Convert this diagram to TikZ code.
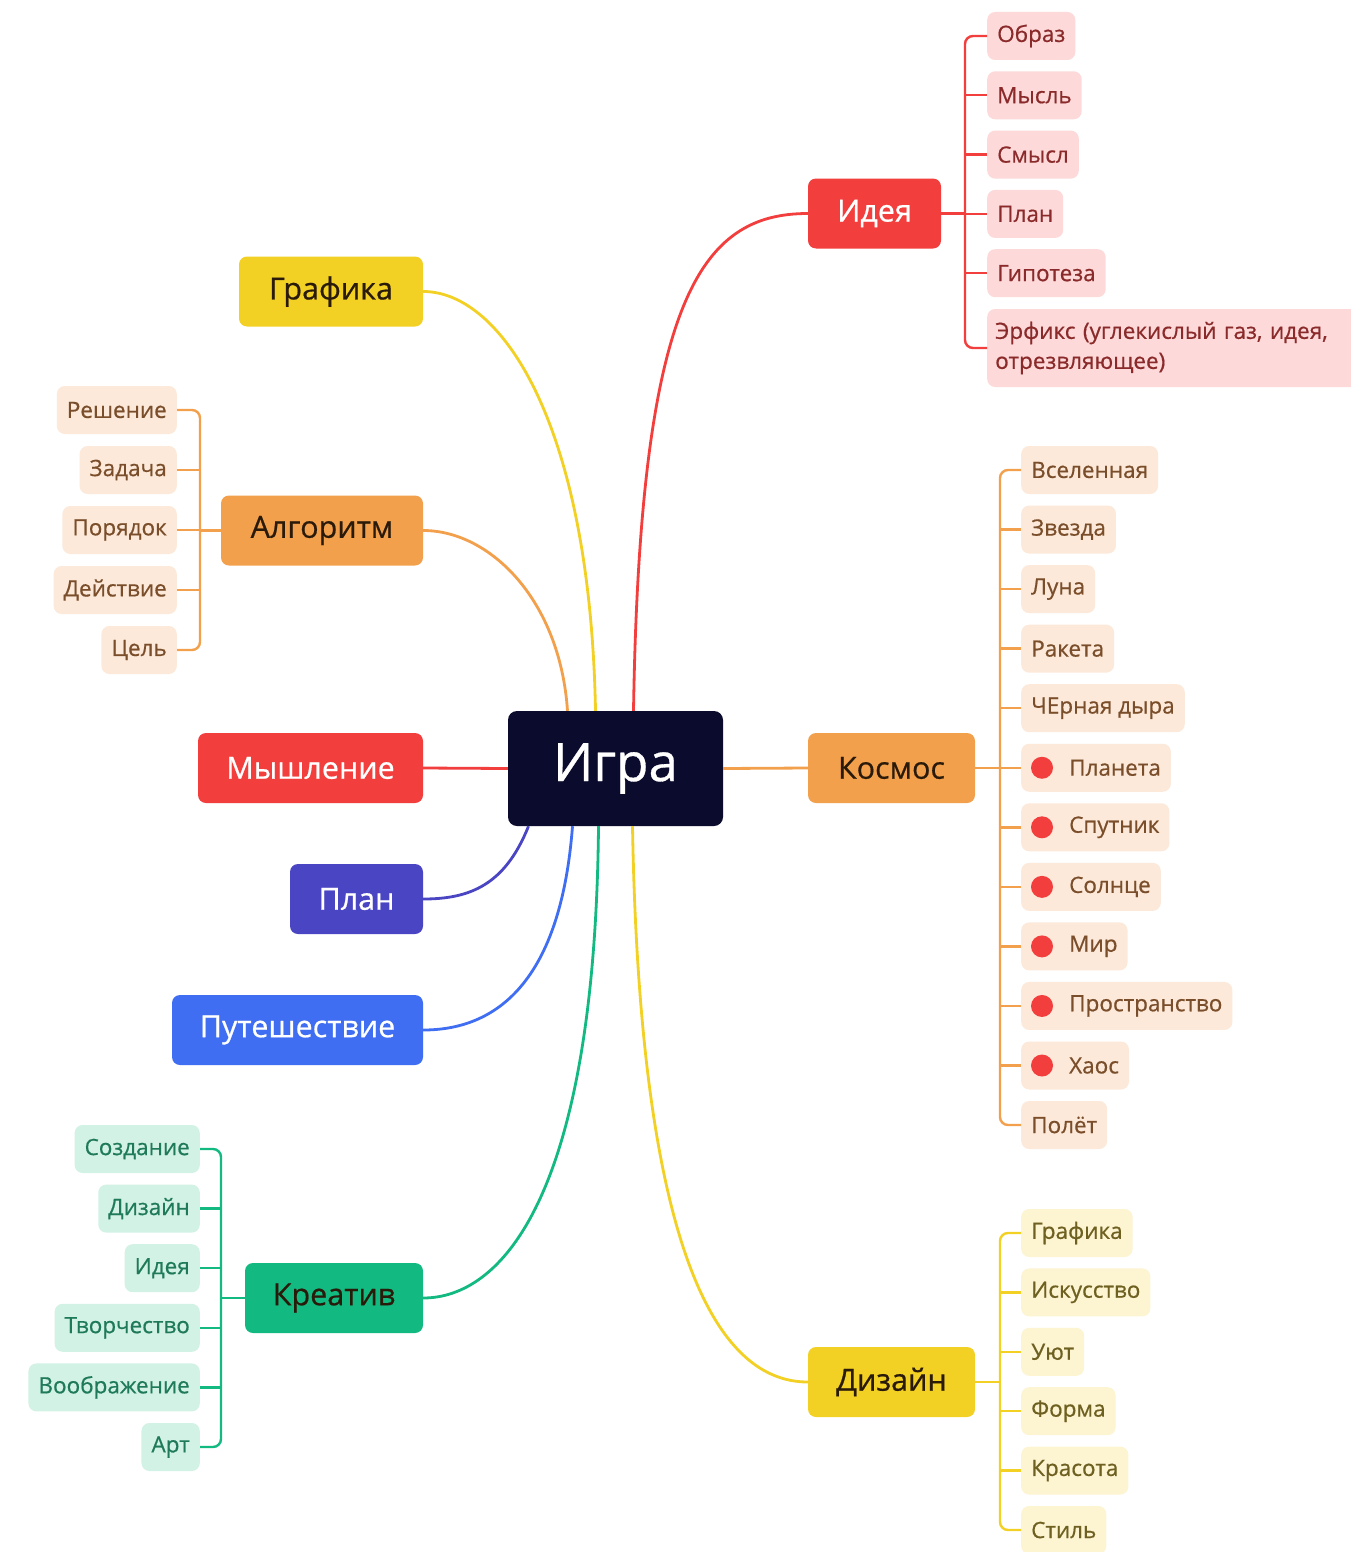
\documentclass[tikz,border=0pt]{standalone}
\usepackage{fontspec}
\setmainfont{Open Sans}[FakeBold=0.6]
\usetikzlibrary{calc}
\definecolor{navy}{HTML}{0B0B2E}
\definecolor{cred}{HTML}{F23E3C}
\definecolor{cyel}{HTML}{F2D024}
\definecolor{corg}{HTML}{F2A04C}
\definecolor{cind}{HTML}{4A45C2}
\definecolor{cblu}{HTML}{3F6EF2}
\definecolor{cgrn}{HTML}{12B981}
\definecolor{lred}{HTML}{FDD9D9}
\definecolor{tred}{HTML}{8A2A2A}
\definecolor{lorg}{HTML}{FDE9DA}
\definecolor{torg}{HTML}{7A4E2A}
\definecolor{lgrn}{HTML}{D2F2E5}
\definecolor{tgrn}{HTML}{1F7A5A}
\definecolor{lyel}{HTML}{FDF4D2}
\definecolor{tyel}{HTML}{6E6020}
\definecolor{dtext}{HTML}{2A1A0A}
\begin{document}
\begin{tikzpicture}[x=1pt,y=-1pt,
  root/.style={rectangle, rounded corners=9pt, fill=navy, text=white, minimum width=215pt, minimum height=115pt, inner sep=0pt, font=\fontsize{53}{60}\selectfont},
  mainbox/.style={rectangle, rounded corners=8pt, minimum height=70pt, inner sep=0pt, font=\fontsize{30.5}{35}\selectfont},
  leaf/.style={rectangle, rounded corners=8pt, minimum height=48pt, inner xsep=10pt, inner ysep=0pt, font=\fontsize{22.5}{26}\selectfont},
  leafI/.style={leaf, fill=lred, text=tred},
  leafA/.style={leaf, fill=lorg, text=torg},
  leafC/.style={leaf, fill=lgrn, text=tgrn},
  leafD/.style={leaf, fill=lyel, text=tyel},
  conn/.style={line width=2.8pt},
  brk/.style={line width=2.4pt, rounded corners=8pt},
  dotr/.style={fill=cred}
]
\useasboundingbox (0,0) rectangle (1350,1552);
\fill[white] (0,0) rectangle (1350,1552);

% central and main nodes
\node[root] (igra) at (615.5,768.5) {Игра};
\node[mainbox, fill=cred, text=white, minimum width=133pt] (idea) at (874.5,213.5) {Идея};
\node[mainbox, fill=cyel, text=dtext, minimum width=184pt] (graf) at (331,291.5) {Графика};
\node[mainbox, fill=corg, text=dtext, minimum width=202pt] (algo) at (322,530.5) {Алгоритм};
\node[mainbox, fill=cred, text=white, minimum width=225pt] (mysh) at (310.5,768) {Мышление};
\node[mainbox, fill=corg, text=dtext, minimum width=167pt] (kosm) at (891.5,768) {Космос};
\node[mainbox, fill=cind, text=white, minimum width=133pt] (plan) at (356.5,899) {План};
\node[mainbox, fill=cblu, text=white, minimum width=251pt] (pute) at (297.5,1030) {Путешествие};
\node[mainbox, fill=cgrn, text=dtext, minimum width=178pt] (krea) at (334,1298) {Креатив};
\node[mainbox, fill=cyel, text=dtext, minimum width=167pt] (dizn) at (891.5,1382) {Дизайн};

% main connectors
\draw[conn, cred] ([xshift=18pt]igra.north) .. controls (640,300) and (700,213.5) .. (idea.west);
\draw[conn, cyel] ([xshift=-20pt]igra.north) .. controls (590,420) and (500,291.5) .. (graf.east);
\draw[conn, corg] ([xshift=-48pt]igra.north) .. controls (560,600) and (490,530.5) .. (algo.east);
\draw[conn, cred] (igra.west) -- (mysh.east);
\draw[conn, corg] (igra.east) -- (kosm.west);
\draw[conn, cind] ([xshift=-87pt]igra.south) .. controls (505,885) and (470,899) .. (plan.east);
\draw[conn, cblu] ([xshift=-43pt]igra.south) .. controls (560,990) and (490,1030) .. (pute.east);
\draw[conn, cgrn] ([xshift=-17pt]igra.south) .. controls (595,1200) and (500,1298) .. (krea.east);
\draw[conn, cyel] ([xshift=17pt]igra.south) .. controls (640,1260) and (720,1382) .. (dizn.west);

% bracket anchors
\coordinate (bI) at (965,0);
\coordinate (bA) at (200,0);
\coordinate (bK) at (1000,0);
\coordinate (bC) at (221,0);
\coordinate (bD) at (1000,0);

% Идея children
\foreach \t [count=\i] in {Образ,Мысль,Смысл,План,Гипотеза}
  \node[leafI, anchor=west] (i\i) at (987,{36+59.3*(\i-1)}) {\t};
\node[leafI, anchor=west, align=left, text width=364pt, minimum height=78pt, inner xsep=8pt, font=\fontsize{22.5}{30}\selectfont] (i6) at (987,348) {Эрфикс (углекислый газ, идея,\\отрезвляющее)};
\draw[brk, cred] (i1.west) -- (i1.west -| bI) -- (i6.west -| bI) -- (i6.west);
\foreach \i in {2,...,5} \draw[brk, cred] (i\i.west) -- (i\i.west -| bI);
\draw[brk, cred] (idea.east) -- (idea.east -| bI);

% Алгоритм children
\foreach \t [count=\i] in {Решение,Задача,Порядок,Действие,Цель}
  \node[leafA, anchor=east] (a\i) at (177,{410+60*(\i-1)}) {\t};
\draw[brk, corg] (a1.east) -- (a1.east -| bA) -- (a5.east -| bA) -- (a5.east);
\foreach \i in {2,...,4} \draw[brk, corg] (a\i.east) -- (a\i.east -| bA);
\draw[brk, corg] (algo.west) -- (algo.west -| bA);

% Космос children
\foreach \t [count=\i] in {Вселенная,Звезда,Луна,Ракета,ЧЕрная дыра}
  \node[leafA, anchor=west] (k\i) at (1021,{470+59.55*(\i-1)}) {\t};
\foreach \t [count=\j from 6] in {Планета,Спутник,Солнце,Мир,Пространство,Хаос} {
  \node[leafA, anchor=west] (k\j) at (1021,{470+59.55*(\j-1)}) {\hspace*{38pt}\t};
  \fill[dotr] ([xshift=21pt]k\j.west) circle (11pt);
}
\node[leafA, anchor=west] (k12) at (1021,1125) {Полёт};
\draw[brk, corg] (k1.west) -- (k1.west -| bK) -- (k12.west -| bK) -- (k12.west);
\foreach \i in {2,...,11} \draw[brk, corg] (k\i.west) -- (k\i.west -| bK);
\draw[brk, corg] (kosm.east) -- (kosm.east -| bK);

% Креатив children
\foreach \t [count=\i] in {Создание,Дизайн,Идея,Творчество,Воображение,Арт}
  \node[leafC, anchor=east] (c\i) at (200,{1149+59.6*(\i-1)}) {\t};
\draw[brk, cgrn] (c1.east) -- (c1.east -| bC) -- (c6.east -| bC) -- (c6.east);
\foreach \i in {2,...,5} \draw[brk, cgrn] (c\i.east) -- (c\i.east -| bC);
\draw[brk, cgrn] (krea.west) -- (krea.west -| bC);

% Дизайн children
\foreach \t [count=\i] in {Графика,Искусство,Уют,Форма,Красота,Стиль}
  \node[leafD, anchor=west] (d\i) at (1021,{1233+59.4*(\i-1)}) {\t};
\draw[brk, cyel] (d1.west) -- (d1.west -| bD) -- (d6.west -| bD) -- (d6.west);
\foreach \i in {2,...,5} \draw[brk, cyel] (d\i.west) -- (d\i.west -| bD);
\draw[brk, cyel] (dizn.east) -- (dizn.east -| bD);
\end{tikzpicture}
\end{document}
